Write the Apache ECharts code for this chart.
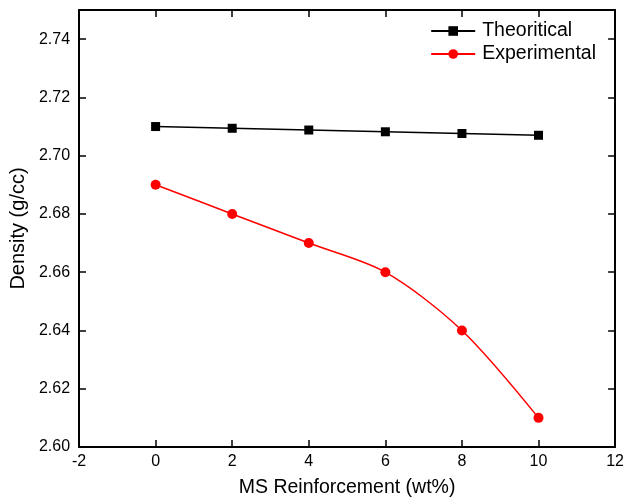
<!DOCTYPE html>
<html>
<head>
<meta charset="utf-8">
<script src="https://cdn.jsdelivr.net/npm/echarts@6/dist/echarts.min.js"></script>
<style>html,body{margin:0;padding:0;background:#fff}#c{width:627px;height:503px}</style>
</head>
<body>
<div id="c"></div>
<script>
var xValues = [0, 2, 4, 6, 8, 10];
var theoritical = [2.7100, 2.7094, 2.7088, 2.7082, 2.7076, 2.7070];
var experimental = [2.690, 2.680, 2.670, 2.660, 2.640, 2.610];
var seriesNames = ['Theoritical', 'Experimental'];
var xTitle = 'MS Reinforcement (wt%)';
var yTitle = 'Density (g/cc)';

function pairs(xs, ys) { return xs.map(function (x, i) { return [x, ys[i]]; }); }
var font = 'Arial, "Liberation Sans", sans-serif';
var chart = echarts.init(document.getElementById('c'));
var axisLine = { show: true, onZero: false, lineStyle: { color: '#000', width: 2 } };
var tick = { show: true, inside: true, length: 7, lineStyle: { color: '#000', width: 1.5 } };
chart.setOption({
  backgroundColor: '#fff',
  animation: false,
  grid: { left: 78, right: 9, top: 10, bottom: 54 },
  legend: {
    right: 26, top: 19, orient: 'vertical', itemWidth: 44, itemHeight: 12, itemGap: 3,
    padding: [2, 5, 2, 5], itemStyle: {},
    textStyle: { fontFamily: font, fontSize: 19.5, color: '#000', padding: [0, 0, 0, 2] },
    data: seriesNames
  },
  xAxis: [{
    type: 'value', min: -2, max: 12, interval: 2, position: 'bottom',
    name: xTitle, nameLocation: 'middle', nameGap: 31,
    nameTextStyle: { fontFamily: font, fontSize: 19.5, color: '#000' },
    axisLine: axisLine, axisTick: tick, splitLine: { show: false },
    axisLabel: { fontFamily: font, fontSize: 16, color: '#000', margin: 7 }
  }, {
    type: 'value', min: -2, max: 12, interval: 2, position: 'top',
    axisLine: axisLine, axisTick: tick, splitLine: { show: false }, axisLabel: { show: false }
  }],
  yAxis: [{
    type: 'value', min: 2.60, max: 2.75, interval: 0.02, position: 'left',
    name: yTitle, nameLocation: 'middle', nameGap: 50,
    nameTextStyle: { fontFamily: font, fontSize: 20, color: '#000' },
    axisLine: axisLine, axisTick: tick, splitLine: { show: false },
    axisLabel: { fontFamily: font, fontSize: 16, color: '#000', margin: 9, showMaxLabel: false,
      formatter: function (v) { return v.toFixed(2); } }
  }, {
    type: 'value', min: 2.60, max: 2.75, interval: 0.02, position: 'right',
    axisLine: axisLine, axisTick: tick, splitLine: { show: false }, axisLabel: { show: false }
  }],
  series: [{
    name: seriesNames[0], type: 'line', data: pairs(xValues, theoritical),
    symbol: 'rect', symbolSize: 9, itemStyle: { color: '#000' },
    lineStyle: { color: '#000', width: 1.5 }
  }, {
    name: seriesNames[1], type: 'line', data: pairs(xValues, experimental),
    symbol: 'circle', symbolSize: 10, smooth: 0.3, itemStyle: { color: '#ff0000' },
    lineStyle: { color: '#ff0000', width: 1.5 }
  }]
});
</script>
</body>
</html>
